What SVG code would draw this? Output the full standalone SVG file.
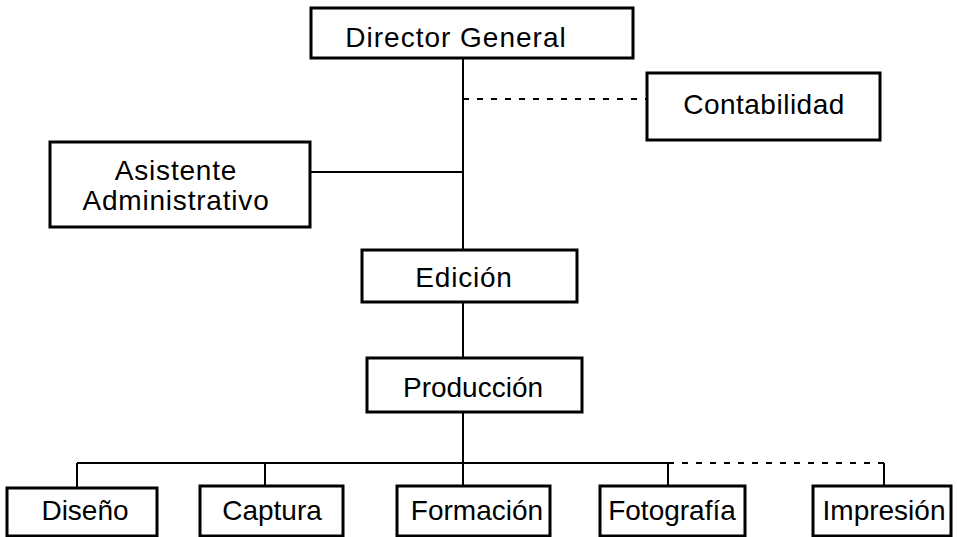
<svg xmlns="http://www.w3.org/2000/svg" width="957" height="537" viewBox="0 0 957 537">
<style>
.box{fill:#fff;stroke:#000;stroke-width:3}
.t{font-family:"Liberation Sans",Arial,sans-serif;font-size:28px;fill:#000;text-anchor:middle}
.ln{fill:none;stroke:#000;stroke-width:2}
.dash{fill:none;stroke:#000;stroke-width:2;stroke-dasharray:6 8}
</style>
<rect width="957" height="537" fill="#fff"/>
<g id="connectors">
<path class="ln" d="M463 58V250M310 172H463M463 302V358M463 412V463M77 463H668M77 463V488M265 463V486M463 463V486M668 463V486"/>
<path class="dash" d="M463 99H647M668 463H884"/>
<path class="ln" d="M884 463V486"/>
</g>
<g id="director"><rect class="box" x="311" y="8" width="322" height="50"/><text class="t" x="456" y="47" letter-spacing="1">Director General</text></g>
<g id="contabilidad"><rect class="box" x="647" y="73" width="233" height="67"/><text class="t" x="764" y="114" letter-spacing="0.5">Contabilidad</text></g>
<g id="asistente"><rect class="box" x="50" y="142" width="260" height="85"/><text class="t" x="176" y="180" font-size="27" letter-spacing="0.8">Asistente</text><text class="t" x="176" y="210" font-size="27" letter-spacing="0.8">Administrativo</text></g>
<g id="edicion"><rect class="box" x="362" y="250" width="215" height="52"/><text class="t" x="464" y="287" letter-spacing="0.8">Edición</text></g>
<g id="produccion"><rect class="box" x="367" y="358" width="215" height="54"/><text class="t" x="473" y="397">Producción</text></g>
<g id="diseno"><rect class="box" x="7" y="488" width="150" height="48"/><text class="t" x="85" y="520">Diseño</text></g>
<g id="captura"><rect class="box" x="200" y="486" width="143" height="50"/><text class="t" x="272" y="520">Captura</text></g>
<g id="formacion"><rect class="box" x="397" y="486" width="153" height="50"/><text class="t" x="477" y="520">Formación</text></g>
<g id="fotografia"><rect class="box" x="600" y="486" width="145" height="50"/><text class="t" x="672" y="520">Fotografía</text></g>
<g id="impresion"><rect class="box" x="813" y="486" width="138" height="50"/><text class="t" x="884" y="520">Impresión</text></g>
</svg>
